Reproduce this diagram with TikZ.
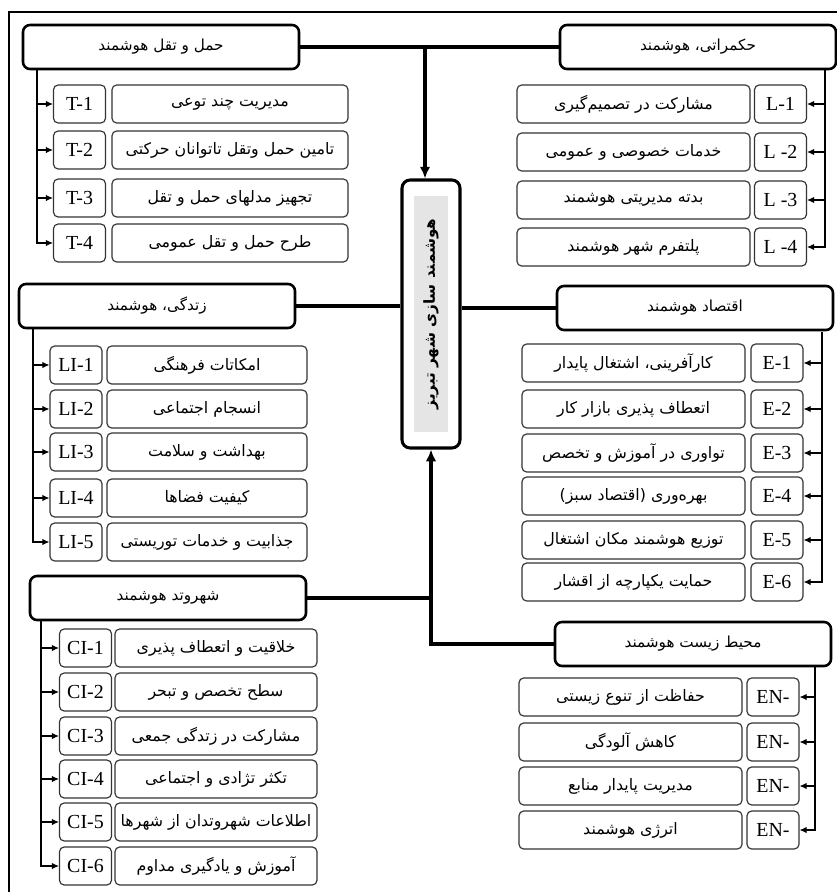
\documentclass[tikz,border=0pt]{standalone}
\usepackage{fontspec}
\usepackage{tikz}
\usetikzlibrary{arrows.meta}
\TeXXeTstate=1
\newfontfamily\fafont[Script=Arabic]{DejaVu Sans}
\newfontfamily\enfont{Liberation Serif}
\newcommand{\rtl}[1]{\beginR #1\endR}

\begin{document}
\begin{tikzpicture}[
        x=0.03cm, y=-0.03cm,
        header/.style={draw, line width=2.2pt, rounded corners=6pt, minimum width=8.28cm, minimum height=1.32cm, font=\fafont\fontsize{13}{15}\selectfont},
        code/.style={draw=black!80, line width=1pt, rounded corners=4pt, minimum width=1.56cm, minimum height=1.14cm, inner sep=1pt, font=\enfont\fontsize{17}{19}\selectfont},
        item/.style={draw=black!80, line width=1pt, rounded corners=4pt, minimum height=1.14cm, inner sep=1pt, font=\fafont\fontsize{13.5}{15}\selectfont},
        main/.style={line width=3pt},
        mainarrow/.style={-{Latex[length=10pt,width=9pt]}, line width=3pt},
        branch/.style={-{Latex[length=6pt,width=5.5pt]}, line width=0.9pt}
    ]
    \useasboundingbox (0,0) rectangle (837,892);
    % Marco
    \draw[line width=1.5pt] (837,12) -- (9,12) -- (9,892);

    % Nodo central
    \node[draw, line width=2.6pt, rounded corners=7pt, minimum width=1.74cm, minimum height=8.04cm] (shahr) at (431,314) {};
    \node[fill=black!10, rotate=90, minimum width=7.05cm, minimum height=1.02cm, inner sep=0pt,
          font=\fafont\bfseries\fontsize{13}{15}\selectfont] (titulo) at (shahr.center) {\rtl{هوشمند سازی شهر تبریز}};

    % Encabezados
    \node[header] (haml) at (161,47) {\rtl{حمل و تقل هوشمند}};
    \node[header] (hokm) at (698,47) {\rtl{حکمراتی، هوشمند}};
    \node[header] (zend) at (157,306) {\rtl{زتدگی، هوشمند}};
    \node[header] (eqt) at (695,308) {\rtl{اقتصاد هوشمند}};
    \node[header] (shv) at (168,598) {\rtl{شهروتد هوشمند}};
    \node[header] (moh) at (693,644) {\rtl{محیط زیست هوشمند}};

    % Flechas principales
    \coordinate (top) at (425,47);
    \draw[main] (haml) -- (hokm);
    \draw[mainarrow] (top) -- (top |- shahr.north);
    \draw[main] (zend.east) -- (zend.east -| shahr.west);
    \draw[main] (eqt.west -| shahr.east) -- (eqt.west);
    \draw[main] (shv.east) -- (shv.east -| shahr.south);
    \draw[mainarrow] (moh.west) -| (shahr.south);

    % Transporte
    \node[code] (t1) at (79.5,104) {T-1};
    \node[code] (t2) at (79.5,150) {T-2};
    \node[code] (t3) at (79.5,198) {T-3};
    \node[code] (t4) at (79.5,243) {T-4};
    \node[item, minimum width=7.08cm] (tt1) at (230,104) {\rtl{مدیریت چند توعی}};
    \node[item, minimum width=7.08cm] (tt2) at (230,150) {\rtl{تامین حمل وتقل تاتوانان حرکتی}};
    \node[item, minimum width=7.08cm] (tt3) at (230,198) {\rtl{تجهیز مدلهای حمل و تقل}};
    \node[item, minimum width=7.08cm] (tt4) at (230,243) {\rtl{طرح حمل و تقل عمومی}};
    \coordinate (tv) at (37,69);
    \draw[branch] (tv) |- (t1.west);
    \draw[branch] (tv) |- (t2.west);
    \draw[branch] (tv) |- (t3.west);
    \draw[branch] (tv) |- (t4.west);

    % Gobernanza
    \node[code] (l1) at (780.5,104) {L-1};
    \node[code] (l2) at (780.5,152) {L -2};
    \node[code] (l3) at (780.5,200) {L -3};
    \node[code] (l4) at (780.5,247) {L -4};
    \node[item, minimum width=6.99cm] (ll1) at (633.5,104) {\rtl{مشارکت در تصمیم‌گیری}};
    \node[item, minimum width=6.99cm] (ll2) at (633.5,152) {\rtl{خدمات خصوصی و عمومی}};
    \node[item, minimum width=6.99cm] (ll3) at (633.5,200) {\rtl{بدته مدیریتی هوشمند}};
    \node[item, minimum width=6.99cm] (ll4) at (633.5,247) {\rtl{پلتفرم شهر هوشمند}};
    \coordinate (lv) at (825,69);
    \draw[branch] (lv) |- (l1.east);
    \draw[branch] (lv) |- (l2.east);
    \draw[branch] (lv) |- (l3.east);
    \draw[branch] (lv) |- (l4.east);

    % Vida
    \node[code] (z1) at (76,365) {LI-1};
    \node[code] (z2) at (76,409) {LI-2};
    \node[code] (z3) at (76,452) {LI-3};
    \node[code] (z4) at (76,498) {LI-4};
    \node[code] (z5) at (76,542) {LI-5};
    \node[item, minimum width=6cm] (zz1) at (207,365) {\rtl{امکاتات فرهنگی}};
    \node[item, minimum width=6cm] (zz2) at (207,409) {\rtl{انسجام اجتماعی}};
    \node[item, minimum width=6cm] (zz3) at (207,452) {\rtl{بهداشت و سلامت}};
    \node[item, minimum width=6cm] (zz4) at (207,498) {\rtl{کیفیت فضاها}};
    \node[item, minimum width=6cm] (zz5) at (207,542) {\rtl{جذابیت و خدمات توریستی}};
    \coordinate (zv) at (33,329);
    \draw[branch] (zv) |- (z1.west);
    \draw[branch] (zv) |- (z2.west);
    \draw[branch] (zv) |- (z3.west);
    \draw[branch] (zv) |- (z4.west);
    \draw[branch] (zv) |- (z5.west);

    % Economia
    \node[code] (e1) at (777,363) {E-1};
    \node[code] (e2) at (777,409) {E-2};
    \node[code] (e3) at (777,453) {E-3};
    \node[code] (e4) at (777,496) {E-4};
    \node[code] (e5) at (777,540) {E-5};
    \node[code] (e6) at (777,582) {E-6};
    \node[item, minimum width=6.69cm] (ee1) at (633.5,363) {\rtl{کارآفرینی، اشتغال پایدار}};
    \node[item, minimum width=6.69cm] (ee2) at (633.5,409) {\rtl{اتعطاف پذیری بازار کار}};
    \node[item, minimum width=6.69cm] (ee3) at (633.5,453) {\rtl{تواوری در آموزش و تخصص}};
    \node[item, minimum width=6.69cm] (ee4) at (633.5,496) {\rtl{بهره‌وری (اقتصاد سبز)}};
    \node[item, minimum width=6.69cm] (ee5) at (633.5,540) {\rtl{توزیع هوشمند مکان اشتغال}};
    \node[item, minimum width=6.69cm] (ee6) at (633.5,582) {\rtl{حمایت یکپارچه از اقشار}};
    \coordinate (ev) at (822,332);
    \draw[branch] (ev) |- (e1.east);
    \draw[branch] (ev) |- (e2.east);
    \draw[branch] (ev) |- (e3.east);
    \draw[branch] (ev) |- (e4.east);
    \draw[branch] (ev) |- (e5.east);
    \draw[branch] (ev) |- (e6.east);

    % Ciudadano
    \node[code] (c1) at (85.5,648) {CI-1};
    \node[code] (c2) at (85.5,692) {CI-2};
    \node[code] (c3) at (85.5,736) {CI-3};
    \node[code] (c4) at (85.5,779) {CI-4};
    \node[code] (c5) at (85.5,822) {CI-5};
    \node[code] (c6) at (85.5,866) {CI-6};
    \node[item, minimum width=6.06cm] (cc1) at (216,648) {\rtl{خلاقیت و اتعطاف پذیری}};
    \node[item, minimum width=6.06cm] (cc2) at (216,692) {\rtl{سطح تخصص و تبحر}};
    \node[item, minimum width=6.06cm] (cc3) at (216,736) {\rtl{مشارکت در زتدگی جمعی}};
    \node[item, minimum width=6.06cm] (cc4) at (216,779) {\rtl{تکثر تژادی و اجتماعی}};
    \node[item, minimum width=6.06cm] (cc5) at (216,822) {\rtl{اطلاعات شهروتدان از شهرها}};
    \node[item, minimum width=6.06cm] (cc6) at (216,866) {\rtl{آموزش و یادگیری مداوم}};
    \coordinate (cv) at (41,620);
    \draw[branch] (cv) |- (c1.west);
    \draw[branch] (cv) |- (c2.west);
    \draw[branch] (cv) |- (c3.west);
    \draw[branch] (cv) |- (c4.west);
    \draw[branch] (cv) |- (c5.west);
    \draw[branch] (cv) |- (c6.west);

    % Medio ambiente
    \node[code] (m1) at (773,697) {EN-};
    \node[code] (m2) at (773,742) {EN-};
    \node[code] (m3) at (773,786) {EN-};
    \node[code] (m4) at (773,830) {EN-};
    \node[item, minimum width=6.69cm] (mm1) at (630.5,697) {\rtl{حفاظت از تنوع زیستی}};
    \node[item, minimum width=6.69cm] (mm2) at (630.5,742) {\rtl{کاهش آلودگی}};
    \node[item, minimum width=6.69cm] (mm3) at (630.5,786) {\rtl{مدیریت پایدار منابع}};
    \node[item, minimum width=6.69cm] (mm4) at (630.5,830) {\rtl{اترژی هوشمند}};
    \coordinate (mv) at (815,666);
    \draw[branch] (mv) |- (m1.east);
    \draw[branch] (mv) |- (m2.east);
    \draw[branch] (mv) |- (m3.east);
    \draw[branch] (mv) |- (m4.east);

    \end{tikzpicture}
\end{document}
